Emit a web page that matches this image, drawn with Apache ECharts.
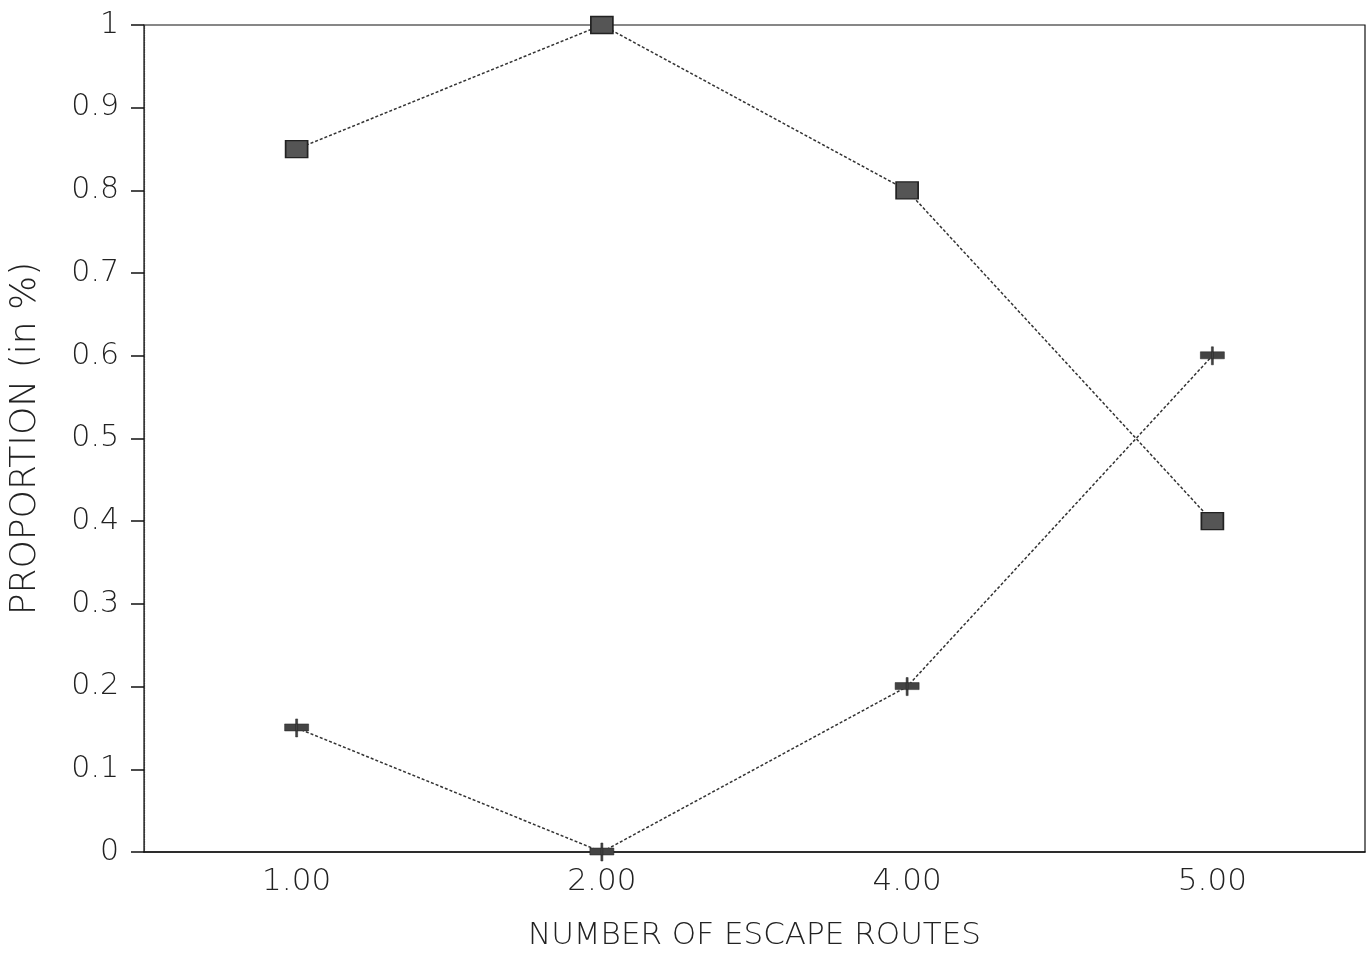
<!DOCTYPE html>
<html><head><meta charset="utf-8">
<script src="https://cdn.jsdelivr.net/npm/echarts@6/dist/echarts.min.js"></script>
<style>html,body{margin:0;padding:0;background:#fff}#c{width:1371px;height:972px}</style>
</head><body><div id="c"></div>
<script>
const categories = ['1.00', '2.00', '4.00', '5.00'];
const squareSeries = [0.85, 1.0, 0.8, 0.4];
const plusSeries = [0.15, 0.0, 0.2, 0.6];
const xName = 'NUMBER OF ESCAPE ROUTES';
const yName = 'PROPORTION (in %)';

const font = '"DejaVu Sans", sans-serif';
const plusPath = 'path://M0,5 L24,5 L24,12 L0,12 Z M11,0 L13,0 L13,18 L11,18 Z';

const chart = echarts.init(document.getElementById('c'), null, {renderer: 'canvas'});
chart.setOption({
  animation: false,
  backgroundColor: '#fff',
  grid: {left: 138, right: 6, top: 25, bottom: 120, show: true, borderColor: '#111', borderWidth: 1.2},
  xAxis: {
    type: 'category', data: categories, boundaryGap: true,
    name: xName, nameLocation: 'middle', nameGap: 68,
    nameTextStyle: {fontFamily: font, fontSize: 31, color: '#222', fontWeight: 'lighter'},
    axisLine: {lineStyle: {color: '#111', width: 1.5}},
    axisTick: {alignWithLabel: true, length: 10, lineStyle: {color: '#333', type: 'dotted'}},
    axisLabel: {fontFamily: font, fontSize: 31, color: '#222', margin: 14, fontWeight: 'lighter'},
    splitLine: {show: false}
  },
  yAxis: {
    type: 'value', min: 0, max: 1, interval: 0.1,
    name: yName, nameLocation: 'middle', nameGap: 100,
    nameTextStyle: {fontFamily: font, fontSize: 36, color: '#222', fontWeight: 'lighter'},
    axisLine: {show: true, lineStyle: {color: '#333', width: 1.2, type: 'dotted'}},
    axisTick: {show: true, length: 13, lineStyle: {color: '#111', width: 1.5}},
    axisLabel: {fontFamily: font, fontSize: 30, color: '#222', margin: 25, fontWeight: 'lighter'},
    splitLine: {show: false}
  },
  series: [
    {
      type: 'line', data: squareSeries,
      symbol: 'rect', symbolSize: [22, 17],
      itemStyle: {color: '#555', borderColor: '#222', borderWidth: 1.5},
      lineStyle: {color: '#333', width: 1.5, type: [3, 2]}
    },
    {
      type: 'line', data: plusSeries,
      symbol: plusPath, symbolSize: [24, 18],
      itemStyle: {color: '#444', borderColor: '#222', borderWidth: 0.5},
      lineStyle: {color: '#333', width: 1.5, type: [3, 2]}
    }
  ]
});
</script></body></html>
